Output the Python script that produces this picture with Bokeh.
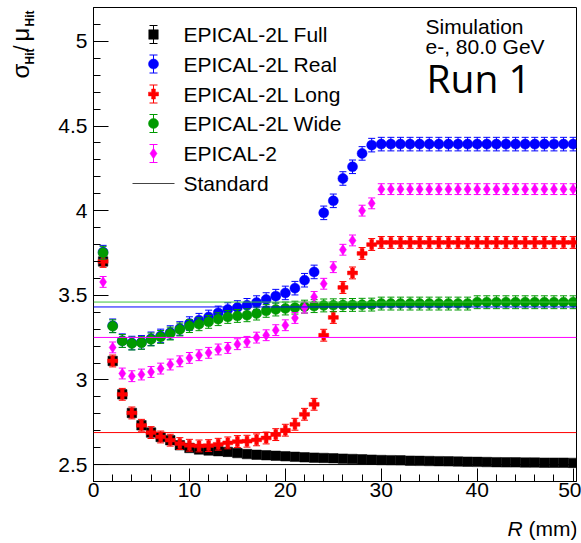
import math

from bokeh.embed import file_html
from bokeh.layouts import column, row
from bokeh.models import ColumnDataSource, Label, Range1d, SingleIntervalTicker, Span
from bokeh.plotting import figure
from bokeh.resources import INLINE

# ---- data: sigma_hit / mu_hit versus distance R (mm), e- at 80 GeV ----
r_mm = list(range(1, 51))

full = [3.700, 3.112, 2.915, 2.805, 2.732, 2.689, 2.663, 2.644, 2.614, 2.598,
        2.589, 2.583, 2.579, 2.575, 2.568, 2.562, 2.558, 2.555, 2.552, 2.549,
        2.546, 2.543, 2.541, 2.539, 2.537, 2.535, 2.533, 2.531, 2.529, 2.527,
        2.526, 2.525, 2.523, 2.522, 2.521, 2.520, 2.519, 2.518, 2.517, 2.516,
        2.515, 2.514, 2.513, 2.513, 2.512, 2.512, 2.511, 2.511, 2.511, 2.510]

real = [3.755, 3.320, 3.232, 3.218, 3.222, 3.243, 3.260, 3.280, 3.304, 3.333,
        3.353, 3.372, 3.396, 3.416, 3.428, 3.441, 3.457, 3.475, 3.495, 3.514,
        3.542, 3.589, 3.638, 3.987, 4.058, 4.190, 4.259, 4.338, 4.387, 4.393,
        4.393, 4.393, 4.393, 4.393, 4.393, 4.393, 4.393, 4.393, 4.393, 4.393,
        4.393, 4.393, 4.393, 4.393, 4.393, 4.393, 4.393, 4.393, 4.393, 4.393]

long_ = [3.700, 3.112, 2.915, 2.805, 2.732, 2.689, 2.663, 2.644, 2.624, 2.614,
         2.610, 2.612, 2.620, 2.628, 2.636, 2.638, 2.646, 2.657, 2.677, 2.703,
         2.738, 2.797, 2.856, 3.264, 3.369, 3.546, 3.632, 3.747, 3.800, 3.812,
         3.812, 3.812, 3.812, 3.812, 3.812, 3.812, 3.812, 3.812, 3.812, 3.812,
         3.812, 3.812, 3.812, 3.812, 3.812, 3.812, 3.812, 3.812, 3.812, 3.812]

wide = [3.751, 3.317, 3.230, 3.215, 3.219, 3.239, 3.254, 3.274, 3.298, 3.318,
        3.329, 3.343, 3.359, 3.372, 3.378, 3.382, 3.392, 3.408, 3.416, 3.422,
        3.427, 3.433, 3.436, 3.440, 3.441, 3.442, 3.443, 3.444, 3.445, 3.451,
        3.451, 3.451, 3.451, 3.451, 3.451, 3.451, 3.451, 3.451, 3.451, 3.459,
        3.459, 3.459, 3.459, 3.459, 3.459, 3.459, 3.459, 3.459, 3.459, 3.459]

epical2 = [3.579, 3.192, 3.038, 3.022, 3.032, 3.047, 3.067, 3.091, 3.110, 3.130,
           3.146, 3.160, 3.180, 3.189, 3.211, 3.225, 3.250, 3.264, 3.294, 3.323,
           3.366, 3.427, 3.490, 3.568, 3.666, 3.769, 3.824, 4.000, 4.043, 4.127,
           4.127, 4.127, 4.127, 4.127, 4.127, 4.127, 4.127, 4.127, 4.127, 4.127,
           4.127, 4.127, 4.127, 4.127, 4.127, 4.127, 4.127, 4.127, 4.127, 4.127]

# statistical uncertainty of each configuration
errors = {"full": 0.015, "real": 0.040, "long": 0.035, "wide": 0.038, "epical2": 0.032}

# reference values of the standard geometry
standard_names = ["full", "long", "epical2", "real", "wide"]
standard_values = [2.500, 2.689, 3.251, 3.431, 3.460]

legend_labels = ["EPICAL-2L Full", "EPICAL-2L Real", "EPICAL-2L Long",
                 "EPICAL-2L Wide", "EPICAL-2"]

# ---- page geometry (pixels) ----
FONT = "Liberation Sans"
PAGE_W, PAGE_H = 581, 543
TITLE_W = 45            # strip left of the plot holding the y title
MAIN_W, MAIN_H = PAGE_W - TITLE_W, 513
FRAME_L, FRAME_R, FRAME_T, FRAME_B = 93, 576, 7, 481   # page coordinates
X0, X1 = 0.0, 50.35
Y0, Y1 = 2.4, 5.2

style = {
    "full":    dict(color="#000000", marker="square", size=9.5),
    "real":    dict(color="#0000ff", marker="circle", size=10),
    "long":    dict(color="#ff0000", marker="plus", size=10),
    "wide":    dict(color="#009a00", marker="circle", size=10),
    "epical2": dict(color="#ff00ff", marker="diamond", size=10.5),
}
line_colors = {"full": "#000000", "long": "#ff0000", "epical2": "#ff00ff",
               "real": "#0000ff", "wide": "#3cc43c"}

p = figure(width=MAIN_W, height=MAIN_H, output_backend="svg", toolbar_location=None,
           x_range=Range1d(X0, X1), y_range=Range1d(Y0, Y1),
           min_border_left=FRAME_L - TITLE_W, min_border_right=PAGE_W - FRAME_R,
           min_border_top=FRAME_T, min_border_bottom=MAIN_H - FRAME_B)
p.grid.visible = False
p.background_fill_color = "white"
p.border_fill_color = "white"
p.outline_line_color = "black"
p.outline_line_width = 1

p.xaxis.ticker = SingleIntervalTicker(interval=10, num_minor_ticks=5)
p.yaxis.ticker = SingleIntervalTicker(interval=0.5, num_minor_ticks=5)
for ax in (p.xaxis[0], p.yaxis[0]):
    ax.axis_line_color = "black"
    ax.major_tick_line_color = "black"
    ax.minor_tick_line_color = "black"
    ax.major_tick_out = 0
    ax.minor_tick_out = 0
    ax.minor_tick_in = 7
    ax.major_label_text_font = FONT
    ax.major_label_text_font_size = "21px"
    ax.major_label_text_color = "black"
p.xaxis.major_tick_in = 13
p.yaxis.major_tick_in = 15
p.xaxis.major_label_standoff = 1
p.yaxis.major_label_standoff = 6


def px_to_x(px):
    return X0 + (px - FRAME_L) / (FRAME_R - FRAME_L) * (X1 - X0)


def py_to_y(py):
    return Y1 - (py - FRAME_T) / (FRAME_B - FRAME_T) * (Y1 - Y0)


def draw_points(xs, ys, err, st, cap=7):
    src = ColumnDataSource(dict(x=xs, y=ys,
                                lo=[v - err for v in ys], hi=[v + err for v in ys]))
    c = st["color"]
    p.segment(x0="x", y0="lo", x1="x", y1="hi", source=src, line_color=c, line_width=1)
    p.scatter(x="x", y="lo", source=src, marker="dash", size=cap, line_color=c)
    p.scatter(x="x", y="hi", source=src, marker="dash", size=cap, line_color=c)
    p.scatter(x="x", y="y", source=src, marker=st["marker"], size=st["size"],
              fill_color=c, line_color=c, line_width=0.5)


series = [("full", full), ("real", real), ("long", long_), ("wide", wide), ("epical2", epical2)]
for key, vals in series:
    draw_points(r_mm, vals, errors[key], style[key])

# standard-geometry reference lines
for key, v in zip(standard_names, standard_values):
    p.add_layout(Span(location=v, dimension="width", line_color=line_colors[key],
                      line_width=1))


def label(fig, cx, cy, text, size="21px", font=FONT, **kw):
    """Text placed by pixel position on the figure's canvas (origin top-left)."""
    fig.add_layout(Label(x=cx, y=cy, x_units="canvas", y_units="canvas",
                         text=text, text_font=font, text_font_size=size,
                         text_color="black", **kw))


def main_label(px, py, text, **kw):
    label(p, px - TITLE_W, py, text, **kw)


# legend
row_y = [34, 63.5, 93.5, 123, 153]
dy = 9 * (Y1 - Y0) / (FRAME_B - FRAME_T)
for (key, _), txt, ry in zip(series, legend_labels, row_y):
    draw_points([px_to_x(153)], [py_to_y(ry)], dy, style[key], cap=8)
    main_label(183, ry, txt, text_baseline="middle")
p.line(x=[px_to_x(132), px_to_x(174)], y=[py_to_y(183)] * 2, line_color="#444444", line_width=1)
main_label(183, 183, "Standard", text_baseline="middle")

# annotations
main_label(425, 37, "Simulation")
main_label(425, 57, "e-, 80.0 GeV")
main_label(426, 103, "Run 1", size="39px", font="Open Sans")


def text_strip(width, height):
    """Plain canvas used for axis titles next to the plot frame."""
    f = figure(width=width, height=height, output_backend="svg", toolbar_location=None,
               x_range=Range1d(0, width), y_range=Range1d(0, height),
               x_axis_type=None, y_axis_type=None,
               min_border_left=0, min_border_right=0, min_border_top=0, min_border_bottom=0)
    f.grid.visible = False
    f.outline_line_color = None
    f.background_fill_color = "white"
    f.border_fill_color = "white"
    return f


# y-axis title: sigma_Hit / mu_Hit, reading upwards
ytitle = text_strip(TITLE_W, PAGE_H)
rot = math.pi / 2
label(ytitle, 33, 78, "σ", size="24px", angle=rot)
label(ytitle, 36, 64, "Hit", size="12px", text_font_style="bold", angle=rot)
label(ytitle, 33, 51, "/", size="22px", angle=rot)
label(ytitle, 33, 41, "μ", size="24px", angle=rot)
label(ytitle, 36, 26, "Hit", size="12px", text_font_style="bold", angle=rot)

# x-axis title: R (mm)
xtitle = text_strip(MAIN_W, PAGE_H - MAIN_H)
label(xtitle, 507 - TITLE_W, 539 - MAIN_H, "R", text_font_style="italic")
label(xtitle, 528 - TITLE_W, 539 - MAIN_H, "(mm)")

layout = row(ytitle, column(p, xtitle, spacing=0), spacing=0)

open("out.html", "w").write(file_html(layout, INLINE))
